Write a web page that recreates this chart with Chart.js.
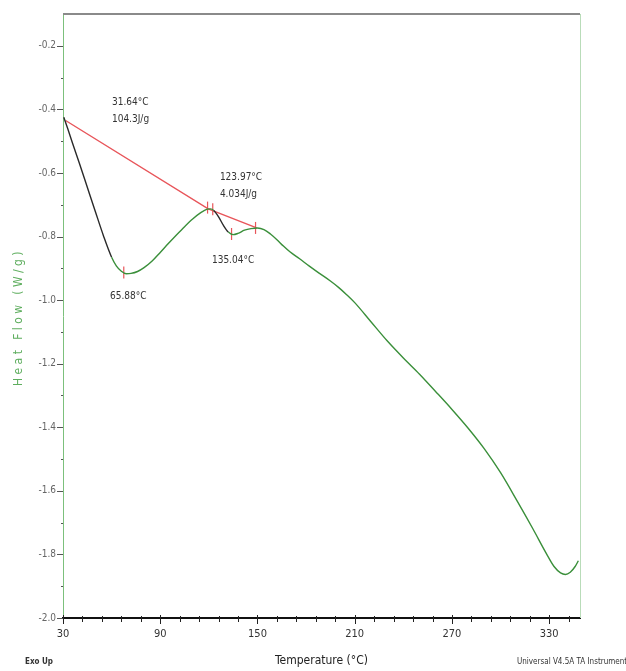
<!DOCTYPE html>
<html>
<head>
<meta charset="utf-8">
<script src="https://cdn.jsdelivr.net/npm/chart.js@4/dist/chart.umd.min.js"></script>
<style>
  html, body { margin: 0; padding: 0; background: #ffffff; }
  #wrap { width: 626px; height: 671px; }
</style>
</head>
<body>
<div id="wrap"><canvas id="dsc" width="626" height="671"></canvas></div>
<script>
// DSC heat-flow trace (°C, W/g)
const temperature = [30.5, 33, 36, 40, 45, 50, 55, 60, 63, 66, 69, 72, 76, 80, 85, 90, 95, 100, 105, 110, 115, 119, 121, 123, 126, 129, 132, 135, 138, 142, 146, 150, 154, 158, 162, 166, 170, 176, 182, 188, 195, 200, 205, 210, 220, 230, 240, 250, 260, 270, 280, 290, 300, 310, 320, 328, 333, 337, 340, 343, 346, 348];
const heatFlow    = [-0.425, -0.462, -0.508, -0.568, -0.645, -0.722, -0.798, -0.865, -0.893, -0.909, -0.917, -0.916, -0.910, -0.898, -0.877, -0.850, -0.822, -0.795, -0.769, -0.745, -0.725, -0.714, -0.713, -0.718, -0.738, -0.765, -0.786, -0.794, -0.790, -0.780, -0.775, -0.773, -0.778, -0.792, -0.810, -0.830, -0.848, -0.870, -0.893, -0.915, -0.940, -0.960, -0.983, -1.008, -1.068, -1.128, -1.182, -1.233, -1.288, -1.344, -1.403, -1.468, -1.543, -1.630, -1.720, -1.795, -1.838, -1.858, -1.863, -1.856, -1.838, -1.820];

// integrated baseline (red)
const baselineT = [31.6, 119.6, 149.5];
const baselineY = [-0.435, -0.713, -0.773];

// analysis cursors (red vertical ticks)
const cursorT = [67.5, 119.2, 122.4, 134.0, 148.8];
const cursorY = [-0.913, -0.709, -0.714, -0.792, -0.773];

// temperature ranges drawn as the selected (black) portion of the trace
const selectedRanges = [[30, 61], [122, 134.5]];

// peak annotations: text lines and their anchor (top-left) in data units
const annotationText = [['31.64°C', '104.3J/g'], ['123.97°C', '4.034J/g'], ['65.88°C'], ['135.04°C']];
const annotationT = [60.2, 126.8, 59.0, 121.9];
const annotationY = [-0.378, -0.613, -0.988, -0.876];

// axis ticks
const xMajorTicks = [30, 90, 150, 210, 270, 330];
const xAllTicks = [30, 42, 54, 66, 78, 90, 102, 114, 126, 138, 150, 162, 174, 186, 198, 210, 222, 234, 246, 258, 270, 282, 294, 306, 318, 330, 342];
const yAllTicks = [-2.0, -1.9, -1.8, -1.7, -1.6, -1.5, -1.4, -1.3, -1.2, -1.1, -1.0, -0.9, -0.8, -0.7, -0.6, -0.5, -0.4, -0.3, -0.2];

const GREEN = '#3a8f3a';
const RED = '#e8555a';
const NARROW = "'Liberation Sans Narrow', 'DejaVu Sans Condensed', 'Arial Narrow', Arial, sans-serif";

const isMajorY = v => Math.abs(Math.round(v * 10)) % 2 === 0;
const inSelected = (a, b) => selectedRanges.some(r => a >= r[0] && b <= r[1]);

const curvePts = temperature.map((t, i) => ({ x: t, y: heatFlow[i] }));
const basePts = baselineT.map((t, i) => ({ x: t, y: baselineY[i] }));
const cursorPts = cursorT.map((t, i) => ({ x: t, y: cursorY[i] }));

const frame = {
  id: 'frame',
  afterDraw(chart) {
    const { ctx, chartArea: a, scales: { x, y } } = chart;
    ctx.save();
    // top and right frame lines
    ctx.lineWidth = 2;
    ctx.strokeStyle = '#8a8a8a';
    ctx.beginPath(); ctx.moveTo(a.left, a.top); ctx.lineTo(a.right, a.top); ctx.stroke();
    ctx.lineWidth = 1;
    ctx.strokeStyle = '#b9dcb9';
    ctx.beginPath(); ctx.moveTo(a.right + 0.5, a.top); ctx.lineTo(a.right + 0.5, a.bottom); ctx.stroke();

    // y tick marks
    ctx.strokeStyle = '#555';
    ctx.lineWidth = 1;
    y.ticks.forEach(t => {
      const py = Math.round(y.getPixelForValue(t.value)) + 0.5;
      const len = isMajorY(t.value) ? 6 : 2;
      ctx.beginPath(); ctx.moveTo(a.left - len, py); ctx.lineTo(a.left, py); ctx.stroke();
    });
    // x tick marks
    ctx.strokeStyle = '#222';
    x.ticks.forEach(t => {
      const px = Math.round(x.getPixelForValue(t.value)) + 0.5;
      const major = xMajorTicks.includes(t.value);
      ctx.beginPath();
      ctx.moveTo(px, a.bottom - (major ? 3 : 2));
      ctx.lineTo(px, a.bottom + (major ? 6 : 4));
      ctx.stroke();
    });

    // peak annotations
    ctx.fillStyle = '#333';
    ctx.font = '10px ' + NARROW;
    ctx.textAlign = 'left';
    ctx.textBaseline = 'middle';
    annotationText.forEach((lines, i) => {
      const px = x.getPixelForValue(annotationT[i]);
      const py = y.getPixelForValue(annotationY[i]);
      lines.forEach((s, k) => ctx.fillText(s, px, py + k * 17));
    });

    // axis titles
    ctx.fillStyle = '#222';
    ctx.font = '12px ' + NARROW;
    ctx.textAlign = 'center';
    ctx.fillText('Temperature (°C)', (a.left + a.right) / 2, 661);

    ctx.save();
    ctx.translate(19, 317);
    ctx.rotate(-Math.PI / 2);
    ctx.fillStyle = '#5fae5f';
    ctx.font = '12px ' + NARROW;
    const label = 'Heat Flow (W/g)';
    const w0 = ctx.measureText(label).width;
    ctx.letterSpacing = Math.max(0, (138 - w0) / label.length) + 'px';
    ctx.textAlign = 'center';
    ctx.fillText(label, 0, 0);
    ctx.restore();

    ctx.fillStyle = '#333';
    ctx.textAlign = 'left';
    ctx.font = 'bold 8px ' + NARROW;
    ctx.fillText('Exo Up', 25, 662);
    ctx.font = '8px ' + NARROW;
    ctx.fillText('Universal V4.5A TA Instruments', 517, 662);
    ctx.restore();
  }
};

new Chart(document.getElementById('dsc'), {
  type: 'line',
  data: {
    datasets: [
      {
        data: curvePts,
        borderColor: GREEN,
        borderWidth: 1.4,
        pointRadius: 0,
        tension: 0,
        cubicInterpolationMode: 'monotone',
        segment: {
          borderColor: c => inSelected(c.p0.parsed.x, c.p1.parsed.x) ? '#2a2a2a' : GREEN
        }
      },
      {
        data: basePts,
        borderColor: RED,
        borderWidth: 1.4,
        pointRadius: 0,
        tension: 0
      },
      {
        data: cursorPts,
        showLine: false,
        pointStyle: 'line',
        rotation: 90,
        radius: 6,
        borderColor: RED,
        borderWidth: 1.2
      }
    ]
  },
  options: {
    responsive: false,
    animation: false,
    events: [],
    layout: { padding: { left: 0, top: 14, right: 46, bottom: 0 } },
    plugins: { legend: { display: false }, tooltip: { enabled: false } },
    scales: {
      x: {
        type: 'linear',
        min: 30,
        max: 349,
        afterFit: s => { s.height = 53; },
        afterBuildTicks: s => { s.ticks = xAllTicks.map(v => ({ value: v })); },
        grid: { drawOnChartArea: false, drawTicks: false },
        border: { color: '#111', width: 2 },
        ticks: {
          padding: 10,
          autoSkip: false,
          maxRotation: 0,
          color: '#333',
          font: { family: NARROW, size: 11 },
          callback: v => xMajorTicks.includes(v) ? String(v) : ''
        }
      },
      y: {
        type: 'linear',
        min: -2.0,
        max: -0.1,
        afterFit: s => { s.width = 63; },
        afterBuildTicks: s => { s.ticks = yAllTicks.map(v => ({ value: v })); },
        grid: { drawOnChartArea: false, drawTicks: false },
        border: { color: '#7cc07c', width: 1 },
        ticks: {
          padding: 7,
          autoSkip: false,
          color: '#666',
          font: { family: NARROW, size: 10 },
          callback: v => isMajorY(v) ? v.toFixed(1) : ''
        }
      }
    }
  },
  plugins: [frame]
});
</script>
</body>
</html>
